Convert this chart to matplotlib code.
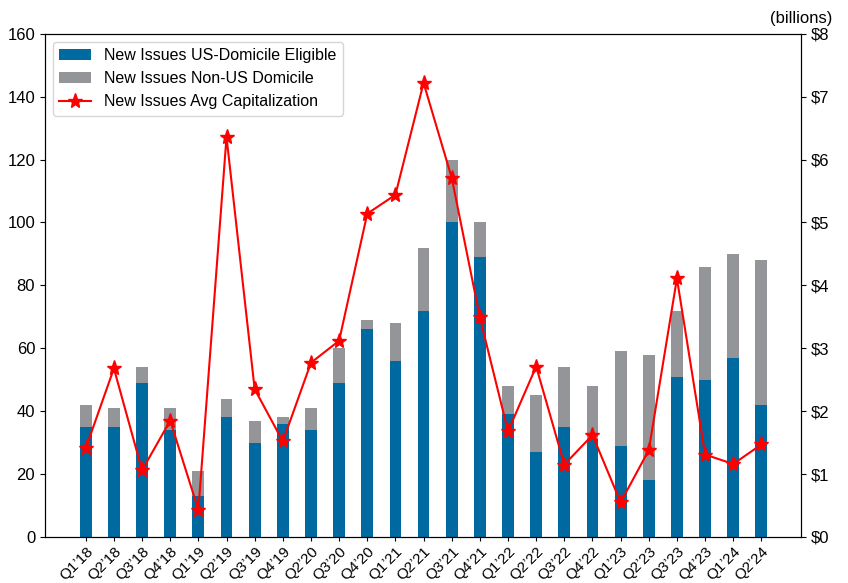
import numpy as np
import matplotlib.pyplot as plt
from matplotlib.ticker import FuncFormatter

plt.rcParams['font.family'] = ['Liberation Sans', 'DejaVu Sans']

quarters = ["Q1\u201918", "Q2\u201918", "Q3\u201918", "Q4\u201918",
            "Q1\u201919", "Q2\u201919", "Q3\u201919", "Q4\u201919",
            "Q2\u201920", "Q3\u201920", "Q4\u201920",
            "Q1\u201921", "Q2\u201921", "Q3\u201921", "Q4\u201921",
            "Q1\u201922", "Q2\u201922", "Q3\u201922", "Q4\u201922",
            "Q1\u201923", "Q2\u201923", "Q3\u201923", "Q4\u201923",
            "Q1\u201924", "Q2\u201924"]
us_domicile = [35, 35, 49, 34, 13, 38, 30, 36, 34, 49, 66, 56, 72,
               100, 89, 39, 27, 35, 31, 29, 18, 51, 50, 57, 42]
total_issues = [42, 41, 54, 41, 21, 44, 37, 38, 41, 60, 69, 68, 92,
                120, 100, 48, 45, 54, 48, 59, 58, 72, 86, 90, 88]
avg_cap = [1.41, 2.68, 1.06, 1.85, 0.43, 6.36, 2.35, 1.52, 2.77, 3.12,
           5.14, 5.44, 7.22, 5.71, 3.49, 1.68, 2.71, 1.15, 1.62, 0.55,
           1.38, 4.11, 1.31, 1.16, 1.47]

non_us = [t - u for t, u in zip(total_issues, us_domicile)]

fig = plt.figure(figsize=(8.48, 5.83), dpi=100)
ax = fig.add_axes([0.053, 0.079, 0.892, 0.863])
x = np.arange(len(quarters))

ax.bar(x, us_domicile, width=0.42, color="#006aa0",
       label="New Issues US-Domicile Eligible")
ax.bar(x, non_us, width=0.42, bottom=us_domicile, color="#949599",
       label="New Issues Non-US Domicile")
ax.set_ylim(0, 160)
ax.set_xlim(-1.45, len(quarters) - 1 + 1.42)
ax.set_xticks(x)
ax.set_xticklabels(quarters, rotation=45, ha="right", rotation_mode="anchor")
ax.tick_params(axis="y", labelsize=12)
ax.tick_params(axis="x", labelsize=11, pad=2, length=3)

ax2 = ax.twinx()
ax2.plot(x, avg_cap, color="red", marker="*", markersize=11,
         label="New Issues Avg Capitalization")
ax2.set_ylim(0, 8)
ax2.yaxis.set_major_formatter(FuncFormatter(lambda v, p: "$%d" % v))
ax2.tick_params(labelsize=12)
ax2.text(1.0, 1.015, "(billions)", transform=ax2.transAxes, ha="center",
         va="bottom", fontsize=12)

h1, l1 = ax.get_legend_handles_labels()
h2, l2 = ax2.get_legend_handles_labels()
ax2.legend(h1 + h2, l1 + l2, loc="upper left", fontsize=11.5)

fig.savefig("out.png")
